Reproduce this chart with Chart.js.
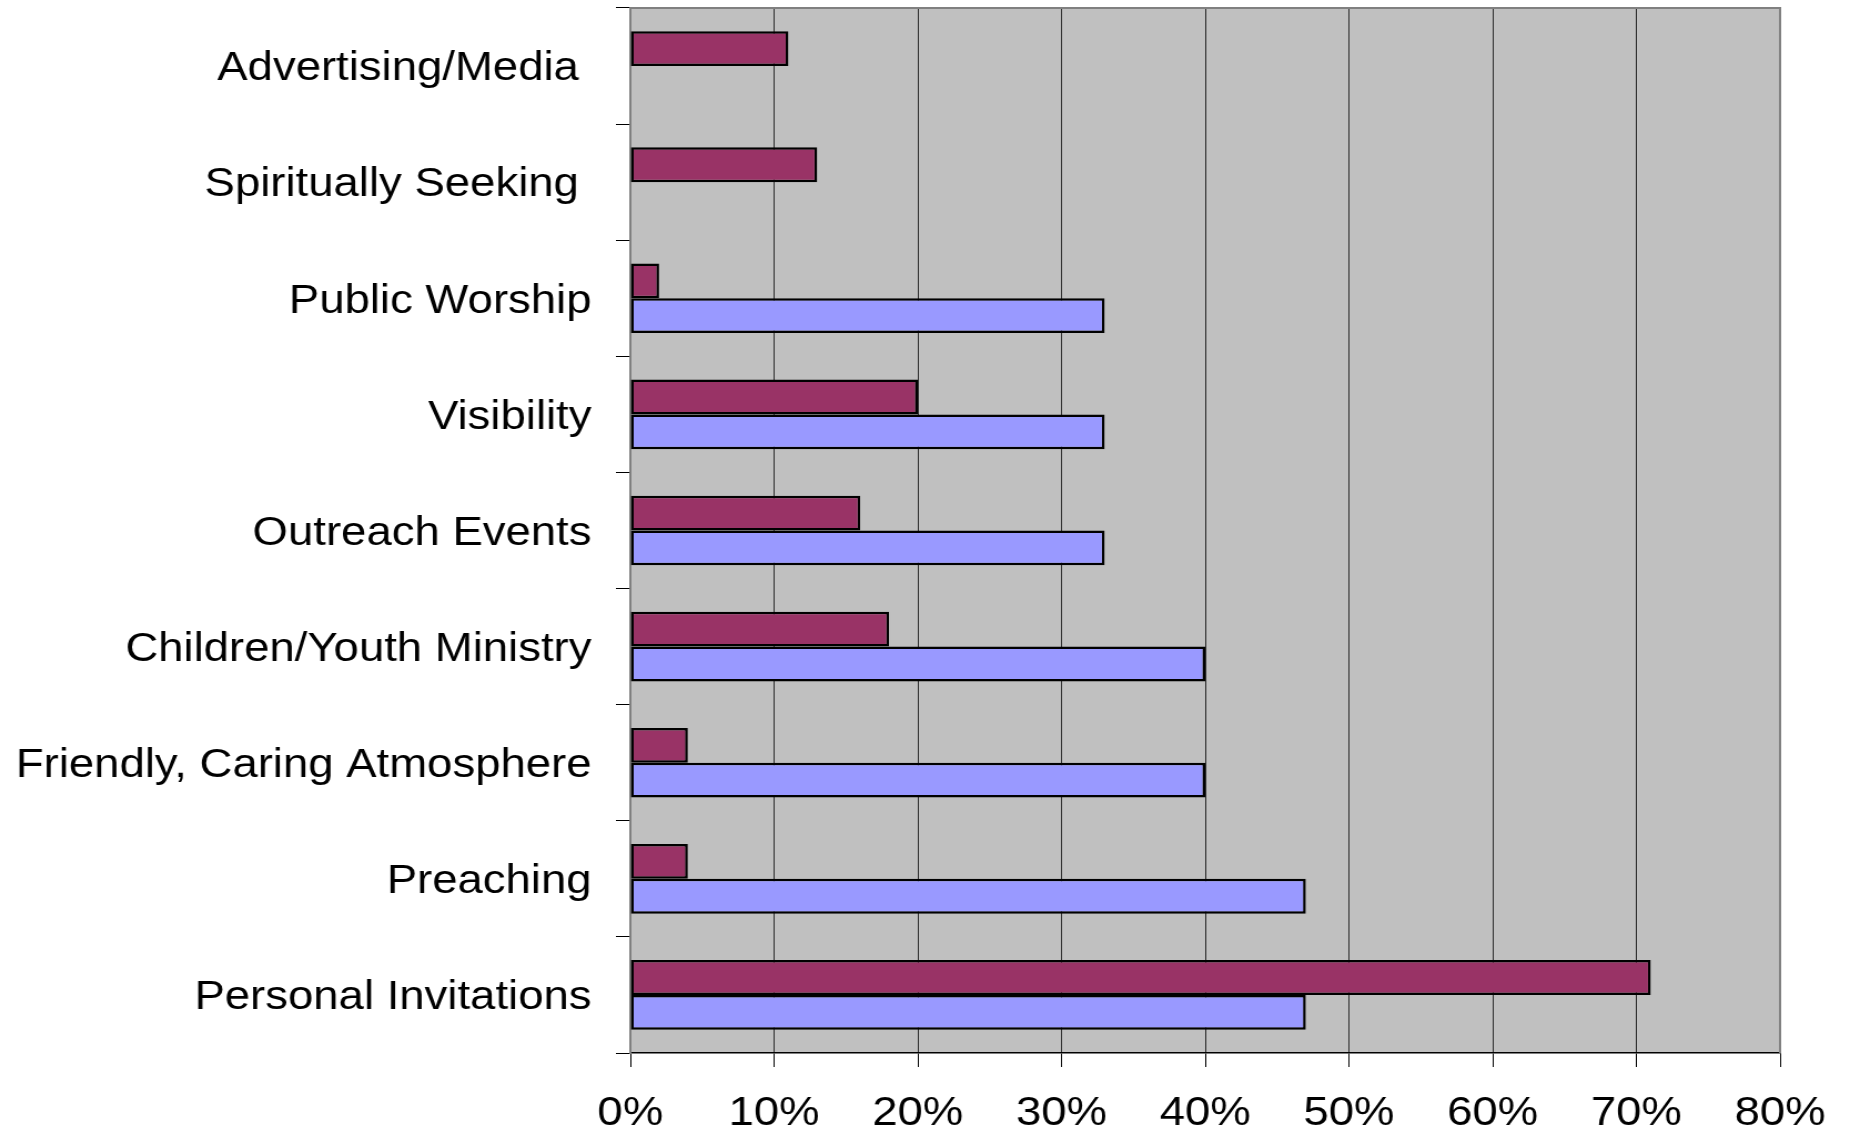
<!DOCTYPE html>
<html lang="en">
<head>
<meta charset="UTF-8">
<title>Why people came</title>
<script src="https://cdn.jsdelivr.net/npm/chart.js"></script>
<style>
  html, body { margin: 0; padding: 0; background: #fff; }
  #chart { display: block; }
</style>
</head>
<body>
<!-- source picture is stretched a little in x, so the canvas is too -->
<canvas id="chart" width="1667" height="1133" style="width:1850px;height:1133px"></canvas>
<script>
const categories = [
    'Advertising/Media ',
    'Spiritually Seeking ',
    'Public Worship',
    'Visibility',
    'Outreach Events',
    'Children/Youth Ministry',
    'Friendly, Caring Atmosphere',
    'Preaching',
    'Personal Invitations'
];
const maroonValues = [11, 13, 2, 20, 16, 18, 4, 4, 71];
const blueValues = [null, null, 33, 33, 33, 40, 40, 47, 47];
const xTickLabels = ['0%', '10%', '20%', '30%', '40%', '50%', '60%', '70%', '80%'];

// grey plot area + the grey top/right frame
const plotFrame = {
    id: 'plotFrame',
    beforeDraw(chart) {
        const { ctx, chartArea: a } = chart;
        ctx.save();
        ctx.fillStyle = '#C0C0C0';
        ctx.fillRect(a.left, a.top, a.right - a.left, a.bottom - a.top);
        ctx.restore();
    },
    afterDraw(chart) {
        const { ctx, chartArea: a } = chart;
        ctx.save();
        ctx.strokeStyle = '#808080';
        ctx.lineWidth = 2;
        ctx.beginPath();
        ctx.moveTo(a.left, a.top);
        ctx.lineTo(a.right, a.top);
        ctx.lineTo(a.right, a.bottom);
        ctx.stroke();
        ctx.restore();
    }
};

const ctx = document.getElementById('chart');
new Chart(ctx, {
    type: 'bar',
    data: {
        labels: categories,
        datasets: [
            {
                label: 'Series 1',
                data: maroonValues,
                backgroundColor: '#993366'
            },
            {
                label: 'Series 2',
                data: blueValues,
                backgroundColor: '#9999FF'
            }
        ].map(d => Object.assign(d, {
            borderColor: '#000',
            borderWidth: 2.5,
            borderSkipped: false,
            barPercentage: 1,
            categoryPercentage: 0.6
        }))
    },
    options: {
        indexAxis: 'y',
        responsive: false,
        animation: false,
        layout: { padding: { top: 8, right: 63, left: 0, bottom: 0 } },
        plugins: {
            legend: { display: false },
            tooltip: { enabled: false }
        },
        scales: {
            x: {
                min: 0,
                max: 80,
                ticks: {
                    stepSize: 10,
                    autoSkip: false,
                    maxRotation: 0,
                    padding: 22,
                    color: '#000',
                    font: { family: 'Liberation Sans', size: 41 },
                    callback: (v, i) => xTickLabels[i]
                },
                grid: { color: '#2a2a2a', lineWidth: 1, tickColor: '#000', tickLength: 14 },
                border: { color: '#000', width: 1.5 },
                afterFit: s => {
                    s.height = 80;
                    s.paddingLeft = 0;
                    s.paddingRight = 0;
                }
            },
            y: {
                ticks: {
                    autoSkip: false,
                    padding: 22,
                    labelOffset: 3,
                    color: '#000',
                    font: { family: 'Liberation Sans', size: 41 }
                },
                grid: { drawOnChartArea: false, offset: true, tickColor: '#000', tickLength: 13 },
                border: { color: '#808080', width: 2 },
                afterFit: s => {
                    s.width = 568;
                    s.paddingTop = 0;
                    s.paddingBottom = 0;
                }
            }
        }
    },
    plugins: [plotFrame]
});
</script>
</body>
</html>
